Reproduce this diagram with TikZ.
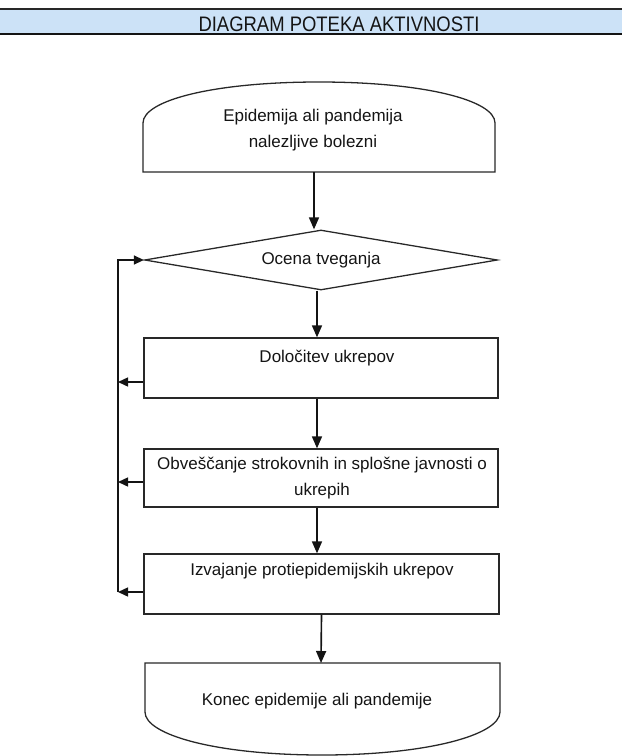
\documentclass[tikz,border=0pt]{standalone}
\usepackage{fontspec}
\usepackage{graphicx}
\setmainfont{Liberation Sans}
\usetikzlibrary{shapes.geometric,arrows.meta}
\definecolor{bandblue}{RGB}{204,226,247}
\definecolor{ink}{RGB}{20,20,20}
\definecolor{edge}{RGB}{40,40,40}
\tikzset{
  shapeline/.style={draw=edge,line width=1.1pt},
  box/.style={shapeline,rectangle,inner sep=0pt},
  dec/.style={shapeline,diamond,inner sep=0pt,aspect=5.9,minimum width=10.59cm,minimum height=1.8cm,
     font=\fontsize{14.5pt}{18pt}\selectfont,text=ink},
  txt/.style={inner sep=0pt,align=center,text=ink,font=\fontsize{14.5pt}{22.2pt}\selectfont},
  flow/.style={draw=ink,line width=1.4pt,-{Triangle[length=0.36cm,width=0.3cm]}},
  fb/.style={draw=ink,line width=1.2pt,-{Triangle[length=0.3cm,width=0.27cm]}},
}
\begin{document}
\begin{tikzpicture}[x=0.03cm,y=-0.03cm]
\useasboundingbox (0,0) rectangle (622,756);
% header band
\fill[bandblue] (0,9) rectangle (622,34);
\draw[line width=1.5pt,draw=edge] (0,9) -- (622,9);
\draw[line width=1.7pt,draw=ink] (0,34) -- (622,34);
\node[inner sep=0pt,text=ink,font=\fontsize{17.9pt}{20pt}\selectfont] (title) at (339,24)
  {\scalebox{0.88}[1]{DIAGRAM POTEKA AKTIVNOSTI}};
% start terminator
\draw[shapeline] (143,172) -- (143,123) .. controls (143,100) and (215,82) .. (319,82)
  .. controls (423,82) and (495,100) .. (495,123) -- (495,172) -- cycle;
\node[txt] (start) at (313,130) {Epidemija ali pandemija\\nalezljive bolezni};
\coordinate (startS) at (314,172);
% decision
\node[dec] (dec) at (321,260) {Ocena tveganja};
% rectangles
\node[box,minimum width=10.62cm,minimum height=1.8cm] (r1) at (321,368) {};
\node[txt] (t1) at (327,358) {Določitev ukrepov};
\node[box,minimum width=10.62cm,minimum height=1.74cm] (r2) at (321,478) {};
\node[txt] (t2) at (322,478) {Obveščanje strokovnih in splošne javnosti o\\ukrepih};
\node[box,minimum width=10.65cm,minimum height=1.8cm] (r3) at (321.5,584) {};
\node[txt] (t3) at (322,571) {Izvajanje protiepidemijskih ukrepov};
% end terminator
\draw[shapeline] (145,663) -- (145,712) .. controls (145,735) and (217,755) .. (322,755)
  .. controls (427,755) and (500,735) .. (500,712) -- (500,663) -- cycle;
\node[txt] (endt) at (317,701) {Konec epidemije ali pandemije};
\coordinate (endN) at (321,663);
% main flow
\coordinate (colA) at (317,0);
\draw[flow] (startS) -- (startS |- dec.north);
\draw[flow] (colA |- dec.south) -- (colA |- r1.north);
\draw[flow] (colA |- r1.south) -- (colA |- r2.north);
\draw[flow] (colA |- r2.south) -- (colA |- r3.north);
\draw[flow] (r3.south) -- (endN);
% feedback
\coordinate (L) at (118,0);
\path (r1.west) ++(0,14) coordinate (r1f);
\path (r2.west) ++(0,4) coordinate (r2f);
\path (r3.west) ++(0,8) coordinate (r3f);
\draw[fb] (L |- r3f) -- (L |- dec.west) -- (dec.west);
\draw[fb] (r1f) -- (L |- r1f);
\draw[fb] (r2f) -- (L |- r2f);
\draw[fb] (r3f) -- (L |- r3f);
\end{tikzpicture}
\end{document}
